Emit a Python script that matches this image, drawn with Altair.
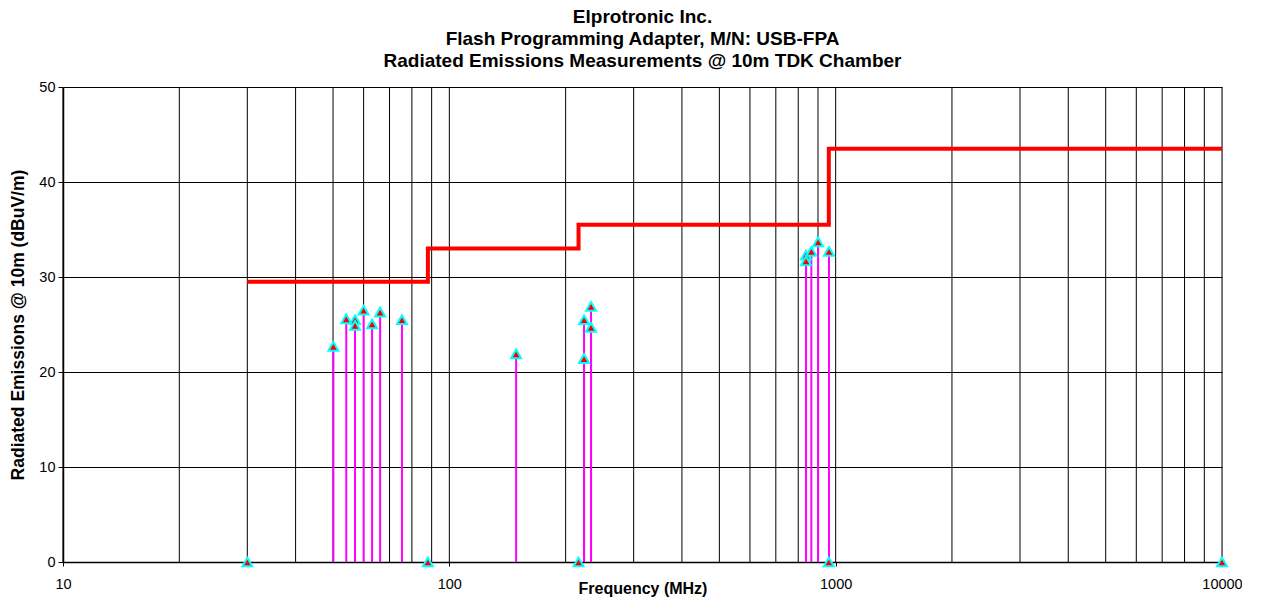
import altair as alt
import pandas as pd

# Measured emissions (MHz, dBuV/m)
meas_freq = [50.1, 54.1, 57.0, 57.0, 60.0, 63.1, 66.2, 75.4, 148.9, 223.2, 223.2,
             232.7, 232.7, 838.0, 838.0, 865.0, 900.6, 961.0]
meas_level = [22.7, 25.6, 25.5, 24.9, 26.5, 25.05, 26.3, 25.5, 21.9, 25.5, 21.4,
              26.9, 24.7, 32.3, 31.7, 32.7, 33.7, 32.7]

# Markers on the baseline
zero_freq = [30, 88, 216, 960, 10000]
zero_level = [0, 0, 0, 0, 0]

# Limit line (step)
limit_freq = [30, 88, 216, 960, 10000]
limit_level = [29.5, 33.0, 35.5, 43.5, 43.5]

# Log grid lines
grid_freq = [m * d for d in [10, 100, 1000] for m in range(1, 10)] + [10000]
major_ticks = [10, 100, 1000, 10000]
y_ticks = [0, 10, 20, 30, 40, 50]

FONT = "Liberation Sans"

meas = pd.DataFrame({"f": meas_freq, "v": meas_level})
pts = pd.DataFrame({"f": meas_freq + zero_freq, "v": meas_level + zero_level})
limit = pd.DataFrame({"f": limit_freq, "v": limit_level})
grid = pd.DataFrame({"f": grid_freq})

xscale = alt.Scale(type="log", domain=[10, 10000], nice=False)
yscale = alt.Scale(domain=[0, 50], nice=False)

xaxis = alt.Axis(values=major_ticks, format="d", grid=False, title="Frequency (MHz)",
                 tickSize=4, tickColor="black", labelPadding=11,
                 labelFont=FONT, labelFontSize=14.5, labelColor="black",
                 titleFont=FONT, titleFontSize=16, titleFontWeight="bold", titleColor="black",
                 titleBaseline="alphabetic", titleY=31,
                 domainColor="black", domainWidth=1.5, labelFlush=False)
yaxis = alt.Axis(values=y_ticks, grid=True, gridColor="black", gridWidth=1,
                 title="Radiated Emissions @ 10m (dBuV/m)", tickSize=5, tickColor="black",
                 labelPadding=3, labelFont=FONT, labelFontSize=14.5, labelColor="black",
                 titleFont=FONT, titleFontSize=17.5, titleFontWeight="bold", titleColor="black",
                 titleBaseline="middle", titleX=-45,
                 domainColor="black", domainWidth=1.5)

gridlayer = alt.Chart(grid).mark_rule(color="black", strokeWidth=1).encode(
    x=alt.X("f:Q", scale=xscale, axis=xaxis),
)

stems = alt.Chart(meas).mark_rule(color="#FF00FF", strokeWidth=2).encode(
    x=alt.X("f:Q", scale=xscale),
    y=alt.Y("v:Q", scale=yscale, axis=yaxis),
    y2=alt.datum(0),
)

limline = alt.Chart(limit).mark_line(color="#FF0000", strokeWidth=4, interpolate="step-after").encode(
    x=alt.X("f:Q", scale=xscale),
    y=alt.Y("v:Q", scale=yscale),
)

markers = alt.Chart(pts).mark_point(shape="triangle-up", filled=True, fill="#FF0000",
                                     stroke="#00FFFF", strokeWidth=2, size=100, opacity=1).encode(
    x=alt.X("f:Q", scale=xscale),
    y=alt.Y("v:Q", scale=yscale),
)

chart = alt.layer(gridlayer, stems, limline, markers).properties(
    width=1159,
    height=475,
    title=alt.Title(
        ["Elprotronic Inc.", "Flash Programming Adapter, M/N: USB-FPA",
         "Radiated Emissions Measurements @ 10m TDK Chamber"],
        font=FONT, fontSize=19, fontWeight="bold", lineHeight=22, anchor="middle",
        offset=8, color="black"),
    autosize=alt.AutoSizeParams(type="none"),
    padding={"left": 55, "top": 79, "right": 20, "bottom": 35},
).configure_view(stroke="black", strokeWidth=1).configure(background="white")

chart.save("out.html", embed_options={"renderer": "svg", "actions": False})
